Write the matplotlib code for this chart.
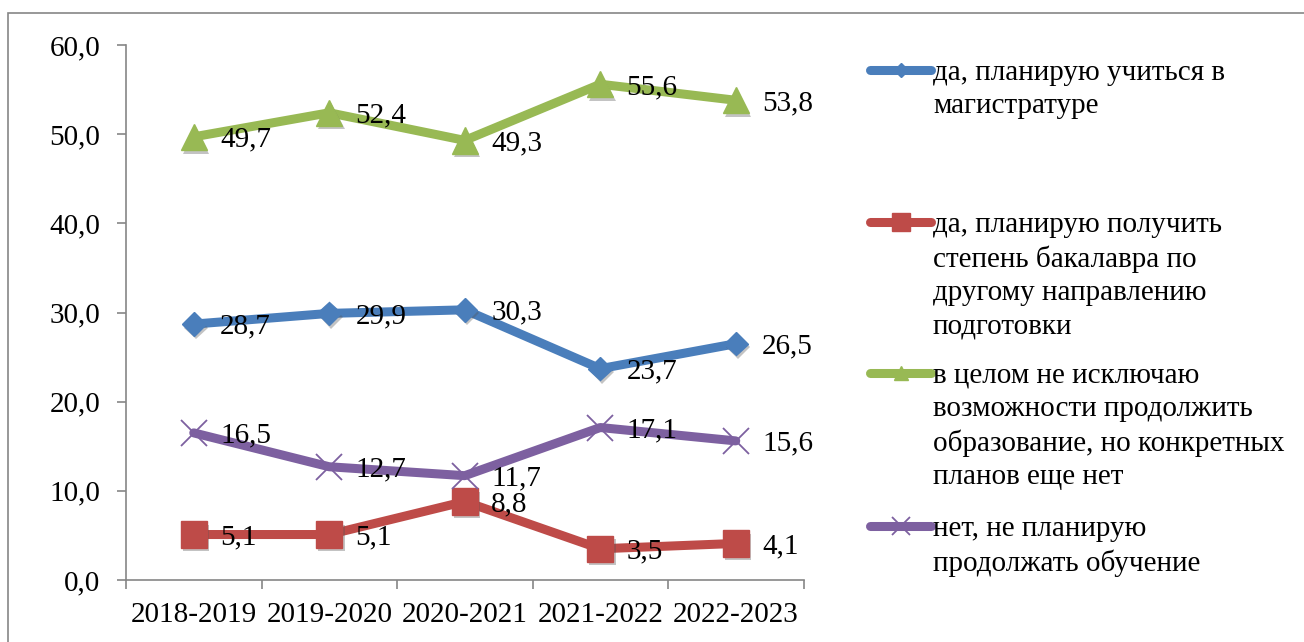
import matplotlib
matplotlib.use("Agg")
import matplotlib.pyplot as plt
import matplotlib.patheffects as pe
from matplotlib.lines import Line2D
from matplotlib.patches import Rectangle

plt.rcParams['font.family'] = ['Liberation Serif', 'DejaVu Serif']

# Data
years = ['2018-2019', '2019-2020', '2020-2021', '2021-2022', '2022-2023']
magistracy = [28.7, 29.9, 30.3, 23.7, 26.5]
second_bachelor = [5.1, 5.1, 8.8, 3.5, 4.1]
undecided = [49.7, 52.4, 49.3, 55.6, 53.8]
no_plans = [16.5, 12.7, 11.7, 17.1, 15.6]

labels = [
    'да, планирую учиться в\nмагистратуре',
    'да, планирую получить\nстепень бакалавра по\nдругому направлению\nподготовки',
    'в целом не исключаю\nвозможности продолжить\nобразование, но конкретных\nпланов еще нет',
    'нет, не планирую\nпродолжать обучение',
]

W, H = 1304, 642
fig = plt.figure(figsize=(W / 100, H / 100), dpi=100)

# outer chart border (right/bottom edges are cropped off in the source)
fig.add_artist(Rectangle((8 / W, -0.05), 1.1, 1 - 13 / H + 0.05,
                         transform=fig.transFigure, fill=False,
                         edgecolor='#868686', linewidth=1.2))

ax = fig.add_axes([126 / W, 1 - 580 / H, (803.5 - 126) / W, (580 - 45) / H])

series = [
    (magistracy, '#4A7EBB', dict(marker='D', markersize=12)),
    (second_bachelor, '#BE4B48', dict(marker='s', markersize=19)),
    (undecided, '#98B954', dict(marker='^', markersize=19)),
    (no_plans, '#7D60A0', dict(marker='x', markersize=19, markeredgewidth=1.3)),
]

shadow = [pe.SimplePatchShadow(offset=(1.5, -2.5), shadow_rgbFace='#555555', alpha=0.35),
          pe.Normal()]

x = list(range(len(years)))
for values, color, mk in series:
    ax.plot(x, values, color=color, linewidth=6.5, solid_capstyle='round', zorder=3)
    ax.plot(x, values, linestyle='none', markerfacecolor=color, markeredgecolor=color,
            zorder=4, path_effects=shadow if mk['marker'] != 'x' else None, **mk)
    for xi, v in zip(x, values):
        ax.annotate(f'{v:.1f}'.replace('.', ','), (xi, v), xytext=(19, -2),
                    textcoords='offset points', ha='left', va='center',
                    fontsize=21, color='black', zorder=5)

ax.set_xlim(-0.5, len(years) - 0.5)
ax.set_ylim(0, 60)
ax.set_yticks(range(0, 61, 10))
ax.set_yticklabels([f'{t:.1f}'.replace('.', ',') for t in range(0, 61, 10)], fontsize=21)

# major ticks on category boundaries, labels on category centres
ax.set_xticks([i - 0.5 for i in range(len(years) + 1)])
ax.set_xticklabels([])
ax.set_xticks(x, minor=True)
ax.set_xticklabels(years, minor=True, fontsize=21)
ax.tick_params(axis='x', which='minor', length=0, pad=15.5)
ax.tick_params(axis='x', which='major', length=6.5, width=1.2, color='#868686', direction='out')
ax.tick_params(axis='y', length=6.5, width=1.2, color='#868686', direction='out', pad=12)

for side in ['top', 'right']:
    ax.spines[side].set_visible(False)
for side in ['left', 'bottom']:
    ax.spines[side].set_color('#868686')
    ax.spines[side].set_linewidth(1.2)

# legend drawn entry by entry (Excel spreads the entries over the height)
key_y = [70, 222, 373, 526]
legend_markers = [
    dict(marker='D', markersize=7),
    dict(marker='s', markersize=13),
    dict(marker='^', markersize=10),
    dict(marker='x', markersize=13, markeredgewidth=1.3),
]
for (values, color, _), mk, lab, ky in zip(series, legend_markers, labels, key_y):
    yf = 1 - ky / H
    fig.add_artist(Line2D([870 / W, 901 / W, 931 / W], [yf, yf, yf],
                          transform=fig.transFigure, color=color, linewidth=6.5,
                          solid_capstyle='round', markevery=[1],
                          markerfacecolor=color, markeredgecolor=color, **mk))
    fig.text(933 / W, 1 - (ky - 10) / H, lab, fontsize=21, va='top', ha='left',
             linespacing=1.35)

fig.savefig('out.png', dpi=100, facecolor='white')
